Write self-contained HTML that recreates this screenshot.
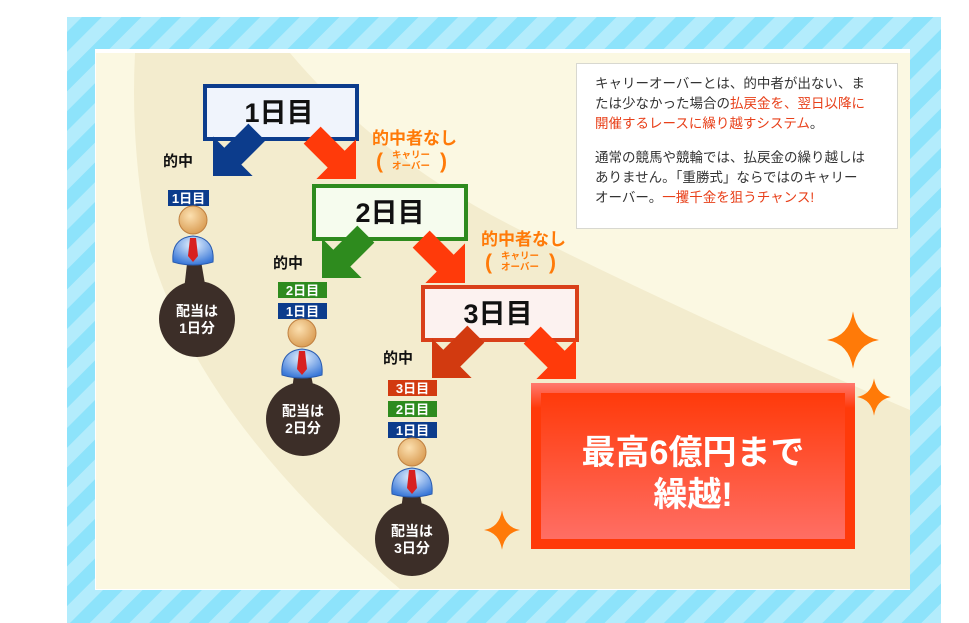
<!DOCTYPE html>
<html><head><meta charset="utf-8"><style>
html,body{margin:0;padding:0;background:#fff;}
body{width:969px;height:623px;position:relative;overflow:hidden;font-family:"Liberation Sans","Noto Sans CJK JP",sans-serif;}
.abs{position:absolute;}
.info{left:576px;top:63px;width:322px;height:166px;background:#fff;border:1px solid #d8d8d0;box-sizing:border-box;padding:10px 0 0 18px;font-size:13.5px;line-height:20px;color:#333;}
.info p{margin:0 0 14px 0;}
.r{color:#e8401a;}
</style></head><body>
<svg class="abs" style="left:0;top:0" width="969" height="623" xmlns="http://www.w3.org/2000/svg">
<defs>
<pattern id="st" width="28" height="28" patternUnits="userSpaceOnUse" patternTransform="rotate(45)">
<rect width="28" height="28" fill="#8de3fb"/><rect width="14" height="28" fill="#b3ecfc"/>
</pattern>
<linearGradient id="rg" x1="0" y1="0" x2="0" y2="1"><stop offset="0" stop-color="#ff3a0a"/><stop offset="1" stop-color="#ff6e64"/></linearGradient>
<linearGradient id="rgo" x1="0" y1="0" x2="0" y2="1"><stop offset="0" stop-color="#ff7a70"/><stop offset="0.15" stop-color="#ff3a0a"/><stop offset="1" stop-color="#ff3a0a"/></linearGradient>
<radialGradient id="hd" cx="0.4" cy="0.35" r="0.7"><stop offset="0" stop-color="#fce0b0"/><stop offset="1" stop-color="#d89a50"/></radialGradient>
<radialGradient id="bd" cx="0.5" cy="0.3" r="0.7"><stop offset="0" stop-color="#e8f4ff"/><stop offset="1" stop-color="#3a78d8"/></radialGradient>
<g id="arw"><polygon points="0,0 -28,-28 -28,-12 -62,-12 -62,12 -28,12 -28,28"/></g>
<g id="person">
<path d="M-20,42 Q-22,18 0,16 Q22,18 20,42 Q0,48 -20,42Z" fill="url(#bd)" stroke="#2a5cb0" stroke-width="1"/>
<polygon points="-3,18 3,18 5,36 0,42 -5,36" fill="#d82020"/>
<circle cx="0" cy="0" r="14" fill="url(#hd)" stroke="#c08040" stroke-width="1"/>
</g>
<path id="spk" d="M0,-22 Q3,-3 20,0 Q3,3 0,22 Q-3,3 -20,0 Q-3,-3 0,-22Z" fill="#ff7a08"/>
</defs>
<rect x="67" y="17" width="874" height="606" fill="url(#st)"/>
<rect x="95" y="49" width="815" height="541" fill="#fff"/>
<rect x="96" y="53" width="814" height="536" fill="#fbf8e2"/>
<path d="M135,53 L290,53 Q380,160 520,230 Q700,320 910,410 L910,589 L400,589 Q200,420 150,250 Q130,150 135,53Z" fill="#f3ecce"/>
<rect x="205" y="86" width="152" height="53" fill="#f0f4fc" stroke="#0c3c8c" stroke-width="4"/>
<rect x="314" y="186" width="152" height="53" fill="#f6fcee" stroke="#2e8b1e" stroke-width="4"/>
<rect x="423" y="287" width="154" height="53" fill="#fcf2f0" stroke="#d9401a" stroke-width="4"/>
<g font-family="Liberation Sans,Noto Sans CJK JP,sans-serif" font-size="27" font-weight="bold" fill="#111" text-anchor="middle">
<text x="279" y="122">1日目</text><text x="390" y="222">2日目</text><text x="498" y="323">3日目</text>
</g>
<use href="#arw" fill="#0c3c8c" transform="translate(213,176) rotate(135)"/>
<use href="#arw" fill="#ff3a0a" transform="translate(356,179) rotate(45)"/>
<use href="#arw" fill="#2e8b1e" transform="translate(322,278) rotate(135)"/>
<use href="#arw" fill="#ff3a0a" transform="translate(465,283) rotate(45)"/>
<use href="#arw" fill="#d23a10" transform="translate(432,378) rotate(135)"/>
<use href="#arw" fill="#ff3a0a" transform="translate(576,379) rotate(45)"/>
<g font-family="Liberation Sans,Noto Sans CJK JP,sans-serif" font-size="13" font-weight="bold" fill="#fff" text-anchor="middle">
<rect x="168" y="190" width="41" height="16" fill="#0c3c8c"/><text x="188.5" y="203">1日目</text>
<rect x="278" y="282" width="49" height="16" fill="#2e8b1e"/><text x="302.5" y="295">2日目</text>
<rect x="278" y="303" width="49" height="16" fill="#0c3c8c"/><text x="302.5" y="316">1日目</text>
<rect x="388" y="380" width="49" height="16" fill="#d23a10"/><text x="412.5" y="393">3日目</text>
<rect x="388" y="401" width="49" height="16" fill="#2e8b1e"/><text x="412.5" y="414">2日目</text>
<rect x="388" y="422" width="49" height="16" fill="#0c3c8c"/><text x="412.5" y="435">1日目</text>
</g>
<g fill="#3c2e28">
<polygon points="188,255 200,255 206,290 184,290"/><circle cx="197" cy="319" r="38"/>
<polygon points="296,360 308,360 314,390 292,390"/><circle cx="303" cy="419" r="37"/>
<polygon points="405,480 417,480 423,510 401,510"/><circle cx="412" cy="539" r="37"/>
</g>
<use href="#person" transform="translate(193,220)"/>
<use href="#person" transform="translate(302,333)"/>
<use href="#person" transform="translate(412,452)"/>
<g font-family="Liberation Sans,Noto Sans CJK JP,sans-serif" font-size="14" font-weight="bold" fill="#fff" text-anchor="middle">
<text x="197" y="316">配当は</text><text x="197" y="333">1日分</text>
<text x="303" y="416">配当は</text><text x="303" y="433">2日分</text>
<text x="412" y="536">配当は</text><text x="412" y="553">3日分</text>
</g>
<g font-family="Liberation Sans,Noto Sans CJK JP,sans-serif" font-size="15" font-weight="bold" fill="#111">
<text x="163" y="166">的中</text><text x="273" y="268">的中</text><text x="383" y="363">的中</text>
</g>
<g font-family="Liberation Sans,Noto Sans CJK JP,sans-serif" font-weight="bold" fill="#ff7a08">
<text x="372" y="144" font-size="17">的中者なし</text>
<text x="376" y="168" font-size="21">(</text><text x="440" y="168" font-size="21">)</text>
<text x="411" y="158" font-size="9.5" text-anchor="middle">キャリー</text><text x="411" y="169" font-size="9.5" text-anchor="middle">オーバー</text>
<text x="481" y="245" font-size="17">的中者なし</text>
<text x="485" y="269" font-size="21">(</text><text x="549" y="269" font-size="21">)</text>
<text x="520" y="259" font-size="9.5" text-anchor="middle">キャリー</text><text x="520" y="270" font-size="9.5" text-anchor="middle">オーバー</text>
</g>
<rect x="531" y="383" width="324" height="166" fill="url(#rgo)"/>
<rect x="541" y="393" width="304" height="146" fill="url(#rg)"/>
<g font-family="Liberation Sans,Noto Sans CJK JP,sans-serif" font-size="34" font-weight="bold" fill="#fff" text-anchor="middle">
<text x="693" y="464">最高6億円まで</text><text x="693" y="506">繰越!</text>
</g>
<use href="#spk" transform="translate(853,340) scale(1.3)"/>
<use href="#spk" transform="translate(874,397) scale(0.85)"/>
<use href="#spk" transform="translate(502,530) scale(0.9)"/>
</svg>
<div class="abs info">
<p>キャリーオーバーとは、的中者が出ない、ま<br>たは少なかった場合の<span class="r">払戻金を、翌日以降に<br>開催するレースに繰り越すシステム</span>。</p>
<p>通常の競馬や競輪では、払戻金の繰り越しは<br>ありません。「重勝式」ならではのキャリー<br>オーバー。<span class="r">一攫千金を狙うチャンス!</span></p>
</div>
</body></html>
